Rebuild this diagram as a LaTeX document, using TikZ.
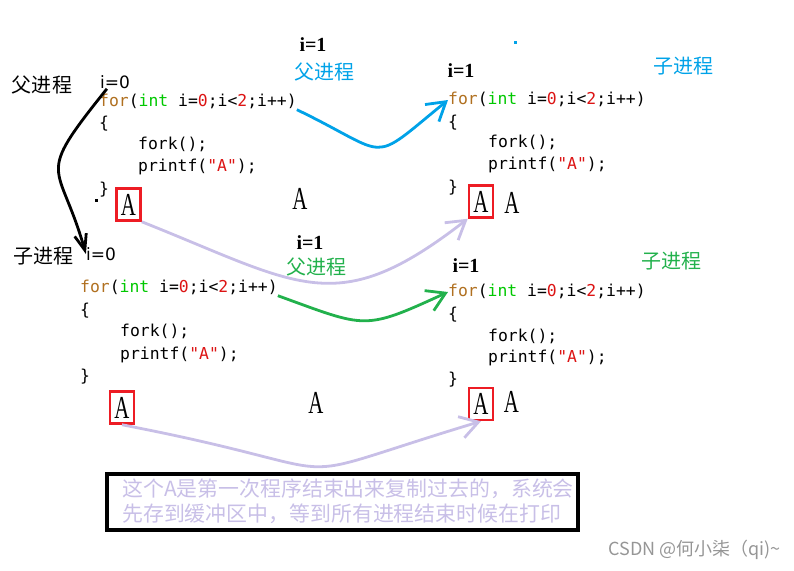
\documentclass[tikz,border=0pt]{standalone}
\usepackage{fontspec}
\usepackage{tikz}
\usetikzlibrary{arrows.meta}
\newfontfamily\codefont{DejaVu Sans Mono}
\newfontfamily\cjk{Noto Sans CJK SC}
\newfontfamily\serif{Liberation Serif}
\newfontfamily\eqsans{DejaVu Sans}
\definecolor{kwbrown}{RGB}{176,112,32}
\definecolor{kwgreen}{RGB}{0,200,0}
\definecolor{numred}{RGB}{220,20,20}
\definecolor{paintblue}{RGB}{0,162,232}
\definecolor{paintgreen}{RGB}{34,177,76}
\definecolor{lilac}{RGB}{200,191,231}
\definecolor{boxred}{RGB}{237,28,36}
\definecolor{markgrey}{RGB}{150,150,150}
\newcommand\forline{\textcolor{kwbrown}{for}(\textcolor{kwgreen}{int} i=\textcolor{numred}{0};i<\textcolor{numred}{2};i++)}
\newcommand\printline{printf(\textcolor{numred}{"A"});}
\newcommand\bigA{\scalebox{0.65}[1]{A}}

\begin{document}
\begin{tikzpicture}[x=1pt,y=-1pt,
	code/.style={anchor=west,inner sep=0pt,text height=12pt,text depth=3pt,font=\codefont\fontsize{16.4}{18}\selectfont},
	bigA/.style={inner sep=0pt,font=\serif\fontsize{32}{32}\selectfont},
	redbox/.style={bigA,draw=boxred,line width=2.5pt,minimum width=24pt,minimum height=32pt},
	proc/.style={inner sep=0pt,font=\cjk\fontsize{20}{20}\selectfont},
	ieq/.style={inner sep=0pt,font=\serif\bfseries\fontsize{20}{20}\selectfont},
	izero/.style={inner sep=0pt,font=\eqsans\fontsize{17}{17}\selectfont},
	flow/.style={line width=2.8pt,-{Straight Barb[length=18pt,width=22pt]}}]
	\useasboundingbox (0,0) rectangle (794,570);
	\node at (42,85) [proc] (parent0) {父进程};
	\node at (115,82) [izero] (izero1) {i=0};
	\node at (99,102) [code] (for1) {\forline};
	\node at (99,124) [code] (open1) {\{};
	\node at (138,145) [code] (fork1) {fork();};
	\node at (138,167) [code] (print1) {\printline};
	\node at (99,190) [code] (close1) {\}};
	\node at (128.5,204.5) [redbox] (boxA1) {\bigA};
	\node at (300,199) [bigA] (plainA1) {\bigA};
	\node at (313,45) [ieq] (ione1) {i=1};
	\node at (324,72) [proc,text=paintblue] (parent1) {父进程};
	\node at (461,71) [ieq] (ione2) {i=1};
	\node at (683,66) [proc,text=paintblue] (child1) {子进程};
	\node at (448,100) [code] (for2) {\forline};
	\node at (448,123) [code] (open2) {\{};
	\node at (488,143) [code] (fork2) {fork();};
	\node at (488,165) [code] (print2) {\printline};
	\node at (448,188) [code] (close2) {\}};
	\node at (481,201.5) [redbox] (boxA2) {\bigA};
	\node at (512,203) [bigA] (plainA2) {\bigA};
	\node at (43,256) [proc] (child0) {子进程};
	\node at (101,254) [izero] (izero2) {i=0};
	\node at (310,243) [ieq] (ione3) {i=1};
	\node at (316,267) [proc,text=paintgreen] (parent2) {父进程};
	\node at (80,288) [code] (for3) {\forline};
	\node at (80,311) [code] (open3) {\{};
	\node at (120,332) [code] (fork3) {fork();};
	\node at (120,355) [code] (print3) {\printline};
	\node at (80,377) [code] (close3) {\}};
	\node at (122,407.5) [redbox] (boxA3) {\bigA};
	\node at (316,402.5) [bigA] (plainA3) {\bigA};
	\node at (466,266) [ieq] (ione4) {i=1};
	\node at (671,261) [proc,text=paintgreen] (child2) {子进程};
	\node at (448,292) [code] (for4) {\forline};
	\node at (448,315) [code] (open4) {\{};
	\node at (488,337) [code] (fork4) {fork();};
	\node at (488,358) [code] (print4) {\printline};
	\node at (448,380) [code] (close4) {\}};
	\node at (481,404) [redbox] (boxA4) {\bigA};
	\node at (511.5,402) [bigA] (plainA4) {\bigA};
	\node at (342.5,502) [draw,line width=4pt,minimum width=471pt,minimum height=56pt,inner sep=0pt] (note) {};
	\node at (122,501) [anchor=west,align=left,inner sep=0pt,text=lilac,font=\cjk\fontsize{20.9}{25}\selectfont] (notetext) {这个A是第一次程序结束出来复制过去的，系统会\\先存到缓冲区中，等到所有进程结束时候在打印};
	\node at (781,550) [anchor=east,inner sep=0pt,text=markgrey,font=\cjk\fontsize{18}{18}\selectfont] (mark) {CSDN @何小柒（qi)\textasciitilde};
	\fill [paintblue] (513.5,40.5) rectangle (516.5,43.5);
	\fill (94.5,198.5) rectangle (97.5,201.5);
	\draw [flow,black,-{Straight Barb[length=16pt,width=12pt]}] ([xshift=7pt]izero1.south west) .. controls (33,181) and (59,159) .. (izero2.west);
	\draw [flow,paintblue] (for1.south east) .. controls (393,156) and (367,166) .. (for2.west);
	\draw [flow,paintgreen] (for3.south east) .. controls (367,328) and (363,331) .. (for4.west);
	\draw [flow,lilac] (boxA1.south east) .. controls (301,285) and (336,321) .. (boxA2.south west);
	\draw [flow,lilac] (boxA3.south) .. controls (378,474) and (260,488) .. (boxA4.south);
\end{tikzpicture}
\end{document}
